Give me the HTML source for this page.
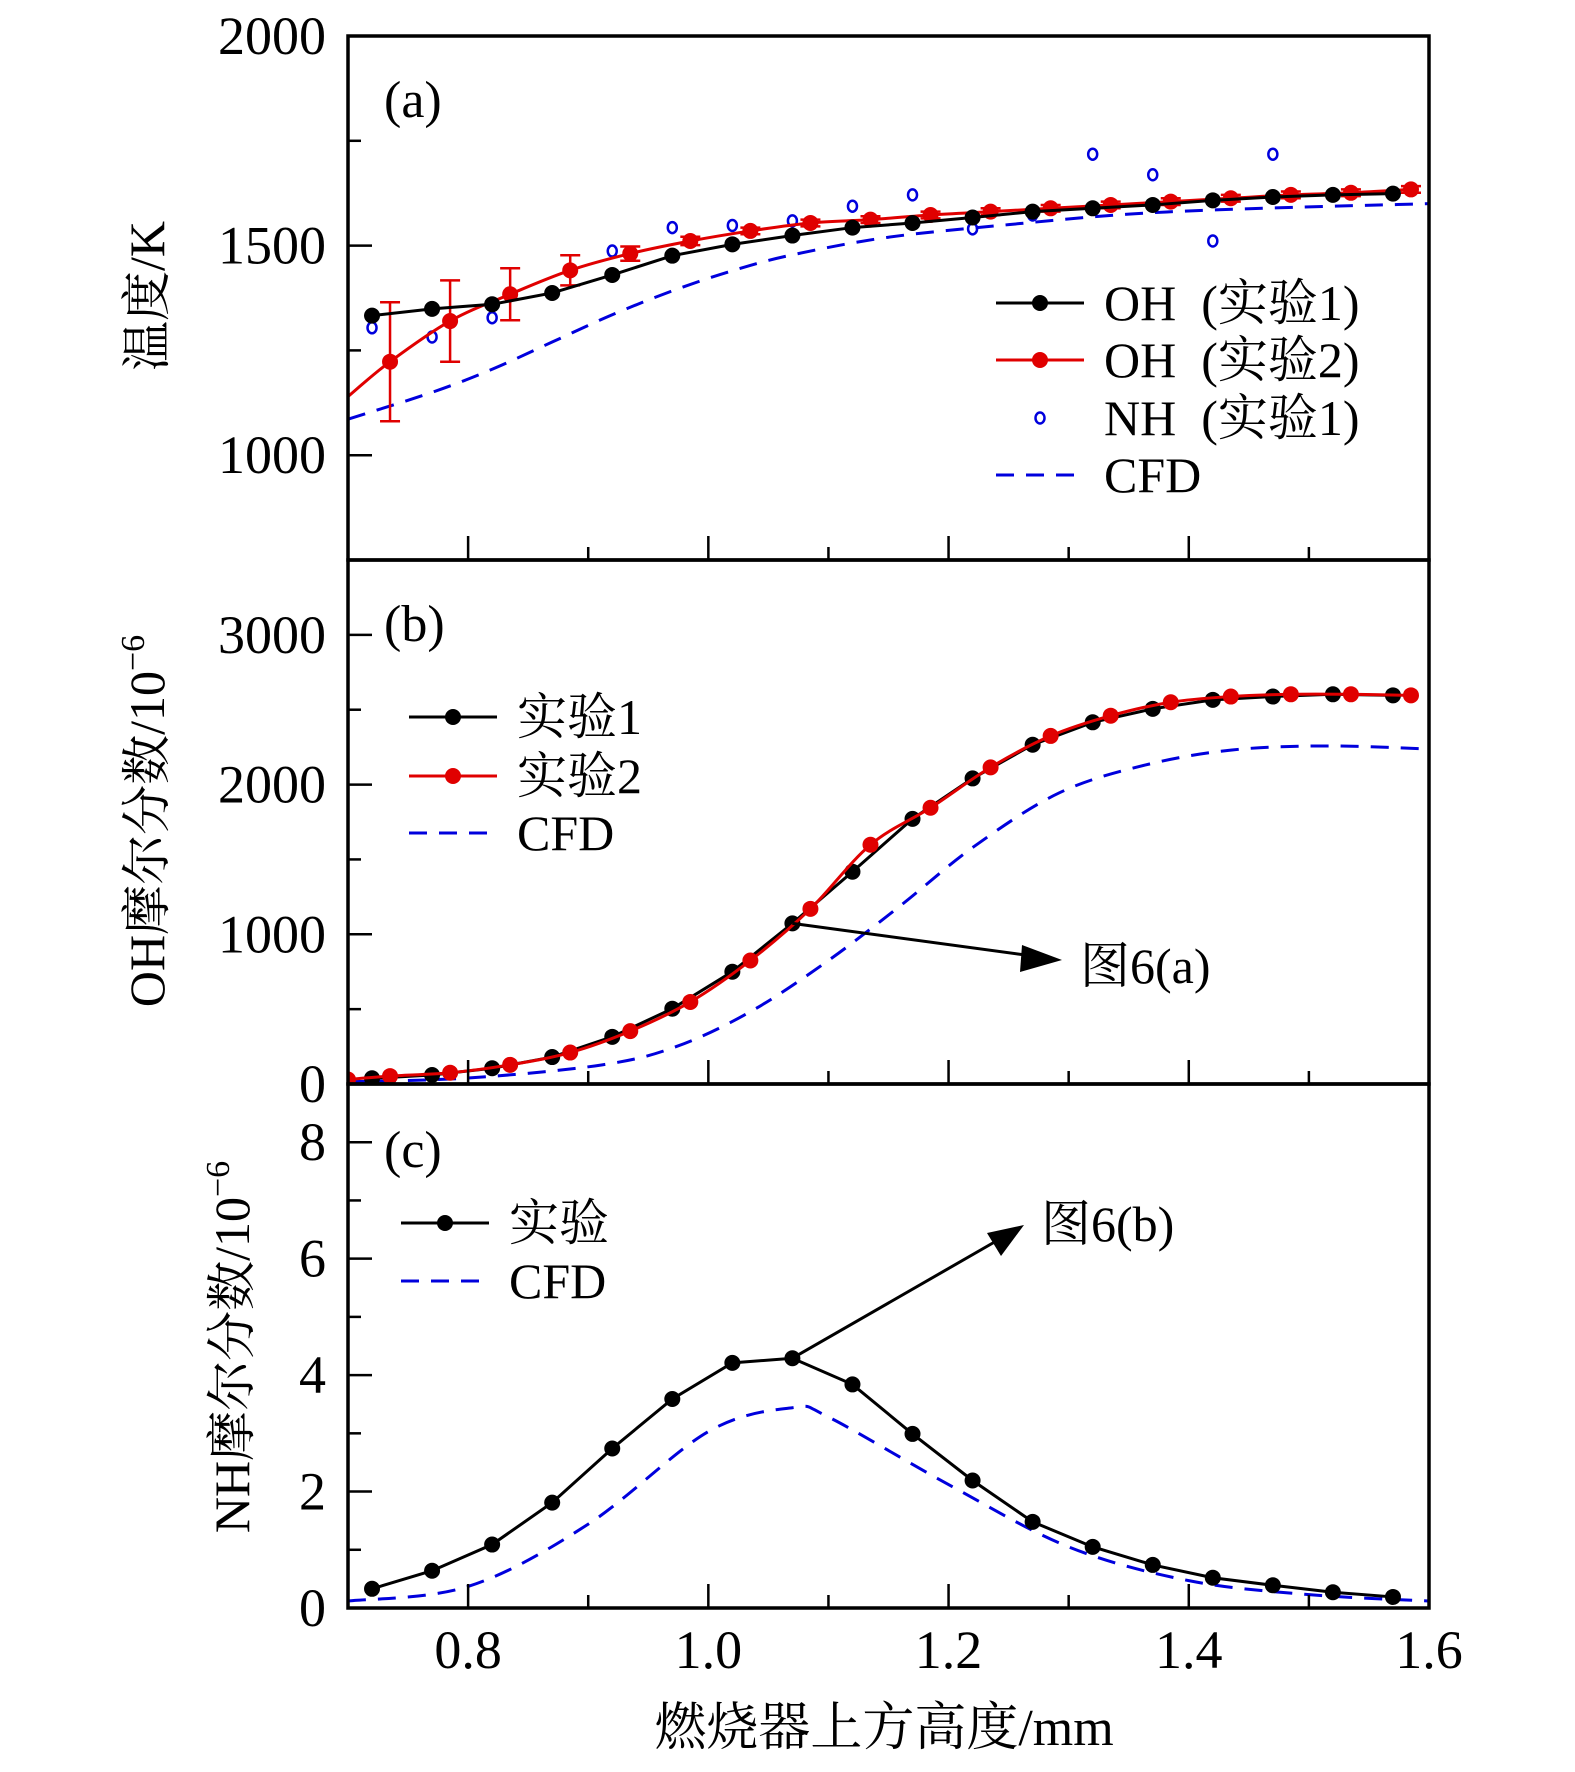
<!DOCTYPE html>
<html><head><meta charset="utf-8"><style>
html,body{margin:0;padding:0;background:#fff}
svg{display:block;font-family:"Liberation Serif","Noto Serif CJK SC","Noto Sans CJK SC",serif}
</style></head><body>
<svg id="chart" width="1575" height="1772" viewBox="0 0 1575 1772" xmlns="http://www.w3.org/2000/svg"></svg>
<script>
// X values
const xOH1 = [0.72,0.77,0.82,0.87,0.92,0.97,1.02,1.07,1.12,1.17,1.22,1.27,1.32,1.37,1.42,1.47,1.52,1.57];
const xOH2 = [0.735,0.785,0.835,0.885,0.935,0.985,1.035,1.085,1.135,1.185,1.235,1.285,1.335,1.385,1.435,1.485,1.535,1.585];
const xNH = [0.72,0.77,0.82,0.87,0.92,0.97,1.02,1.07,1.12,1.17,1.22,1.27,1.32,1.37,1.42,1.47];
// Panel a (temperature, K)
const tempOH1 = [1333,1349,1360,1387,1430,1476,1503,1524,1543,1554,1567,1581,1589,1597,1608,1616,1621,1624];
const tempOH2 = [1223,1320,1384,1441,1481,1511,1535,1554,1562,1573,1581,1589,1597,1605,1613,1621,1626,1634];
const tempOH2Err = [142,97,62,36,17,10,8,8,8,8,8,8,8,8,8,8,8,8];
const tempNH = [1304,1282,1328,1387,1487,1543,1548,1559,1594,1621,1540,1573,1718,1669,1511,1718];
const xTempCFD = [0.7,0.77,0.82,0.87,0.92,0.97,1.02,1.07,1.15,1.25,1.35,1.45,1.6];
const tempCFD = [1086,1150,1205,1270,1335,1392,1440,1478,1520,1550,1575,1588,1600];
// Panel b (OH mole fraction, 1e-6)
const ohExp1 = [38,60,105,180,315,503,750,1073,1418,1771,2041,2266,2416,2506,2566,2588,2603,2596];
const ohExp2 = [53,75,128,210,353,548,825,1170,1598,1845,2115,2325,2460,2550,2588,2603,2603,2596];
const xOhCFD = [0.7,0.8,0.911,0.973,1.035,1.097,1.159,1.221,1.292,1.364,1.436,1.513,1.6];
const ohCFD = [15,40,127,249,483,808,1185,1585,1944,2131,2231,2258,2238];
// Panel c (NH mole fraction, 1e-6)
const nhExp = [0.33,0.64,1.09,1.81,2.74,3.59,4.21,4.29,3.84,2.99,2.19,1.48,1.05,0.74,0.52,0.39,0.27,0.19];
const xNhCFD = [0.7,0.8,0.9,1.0,1.07,1.1,1.2,1.3,1.4,1.5,1.6];
const nhCFD = [0.12,0.37,1.44,3.03,3.44,3.28,2.12,1.05,0.47,0.23,0.12];
// Ticks
const xTicks = [0.8,1.0,1.2,1.4,1.6];
const xTickLabels = ["0.8","1.0","1.2","1.4","1.6"];
const aTicks = [1000,1500,2000];
const bTicks = [0,1000,2000,3000];
const cTicks = [0,2,4,6,8];

const NS="http://www.w3.org/2000/svg";
const svg=document.getElementById('chart');
const L=348,R=1429;
const X=v=>L+(v-0.7)/(1.6-0.7)*(R-L);
const panels={a:{top:36,bot:560,min:750,max:2000},b:{top:560,bot:1084,min:0,max:3500},c:{top:1084,bot:1608,min:0,max:9}};
const Y=(p,v)=>{const q=panels[p];return q.bot-(v-q.min)/(q.max-q.min)*(q.bot-q.top);};
function mk(tag,attrs,parent){const e=document.createElementNS(NS,tag);for(const k in attrs)e.setAttribute(k,attrs[k]);(parent||svg).appendChild(e);return e;}
function txt(s,x,y,size,anchor,parent){const t=mk('text',{x:x,y:y,'font-size':size,'text-anchor':anchor||'start',fill:'#000'},parent);t.setAttribute('xml:space','preserve');t.style.whiteSpace='pre';t.textContent=s;return t;}
function smooth(pts){let d='M'+pts[0][0]+','+pts[0][1];for(let i=0;i<pts.length-1;i++){const p0=pts[i-1]||pts[i],p1=pts[i],p2=pts[i+1],p3=pts[i+2]||p2;const c1=[p1[0]+(p2[0]-p0[0])/6,p1[1]+(p2[1]-p0[1])/6],c2=[p2[0]-(p3[0]-p1[0])/6,p2[1]-(p3[1]-p1[1])/6];d+=' C'+c1[0]+','+c1[1]+' '+c2[0]+','+c2[1]+' '+p2[0]+','+p2[1];}return d;}

const defs=mk('defs',{});
for(const p in panels){const cp=mk('clipPath',{id:'clip-'+p},defs);mk('rect',{x:L,y:panels[p].top,width:R-L,height:panels[p].bot-panels[p].top},cp);}

function series(p,xs,ys,color,name,opts){
  const g=mk('g',{'clip-path':'url(#clip-'+p+')'});
  
  
  const pts=xs.map((x,i)=>[X(x),Y(p,ys[i])]);
  if(opts.line){mk('path',{d:opts.curve?smooth(pts):'M'+pts.map(q=>q.join(',')).join(' L'),fill:'none',stroke:color,'stroke-width':3,'stroke-dasharray':opts.dash||'none'},g);}
  if(opts.marker==='dot')pts.forEach(q=>{const c=mk('circle',{cx:q[0],cy:q[1],r:8,fill:color},g);});
  if(opts.marker==='ring')pts.forEach(q=>{const c=mk('ellipse',{cx:q[0],cy:q[1],rx:4.5,ry:5.5,fill:'none',stroke:color,'stroke-width':2.5},g);});
  return g;
}
function errbars(p,xs,ys,es,color){
  const g=mk('g',{});
  
  
  xs.forEach((x,i)=>{const cx=X(x),y1=Y(p,ys[i]+es[i]),y2=Y(p,ys[i]-es[i]);
    mk('line',{x1:cx,x2:cx,y1:y1,y2:y2,stroke:color,'stroke-width':2.5},g);
    mk('line',{x1:cx-10,x2:cx+10,y1:y1,y2:y1,stroke:color,'stroke-width':2.5},g);
    mk('line',{x1:cx-10,x2:cx+10,y1:y2,y2:y2,stroke:color,'stroke-width':2.5},g);});
}

// Panel a
series('a',xTempCFD,tempCFD,'#0000dd','cfd-line-a',{line:true,curve:true,dash:'18,12'});
series('a',xNH,tempNH,'#0000dd','nh-exp1-points',{marker:'ring'});
series('a',[0.7].concat(xOH2),[1140].concat(tempOH2),'#e00000','oh-exp2-line-a',{line:true,curve:true});
errbars('a',xOH2,tempOH2,tempOH2Err,'#e00000');
series('a',xOH2,tempOH2,'#e00000','oh-exp2-points-a',{marker:'dot'});
series('a',xOH1,tempOH1,'#000','oh-exp1-series-a',{line:true,marker:'dot'});
// Panel b
series('b',xOhCFD,ohCFD,'#0000dd','cfd-line-b',{line:true,curve:true,dash:'18,12'});
series('b',xOH1,ohExp1,'#000','exp1-series-b',{line:true,marker:'dot'});
series('b',[0.7].concat(xOH2),[30].concat(ohExp2),'#e00000','exp2-series-b',{line:true,curve:true,marker:'dot'});
// Panel c
series('c',xNhCFD,nhCFD,'#0000dd','cfd-line-c',{line:true,curve:true,dash:'18,12'});
series('c',xOH1,nhExp,'#000','exp-series-c',{line:true,marker:'dot'});

// Frames and ticks
for(const p in panels){const q=panels[p];
  const f=mk('rect',{x:L,y:q.top,width:R-L,height:q.bot-q.top,fill:'none',stroke:'#000','stroke-width':3.5});
  
  for(let k=0;k<=9;k++){const v=0.7+k*0.1;const major=(k%2===1);mk('line',{x1:X(v),x2:X(v),y1:q.bot,y2:q.bot-(major?24:13),stroke:'#000','stroke-width':2.5});}
}
function yTicks(p,ticks,minorStep){const q=panels[p];
  for(let v=q.min;v<=q.max+1e-9;v+=minorStep){const major=ticks.some(t=>Math.abs(t-v)<1e-6);mk('line',{x1:L,x2:L+(major?24:13),y1:Y(p,v),y2:Y(p,v),stroke:'#000','stroke-width':2.5});}
  ticks.forEach(t=>{const e=txt(String(t),326,Y(p,t)+18,54,'end');});
}
yTicks('a',aTicks,250);yTicks('b',bTicks,500);yTicks('c',cTicks,1);
xTicks.forEach((v,i)=>{const e=txt(xTickLabels[i],X(v),1668,54,'middle');});

// Panel labels
[['(a)',99],['(b)',623],['(c)',1149]].forEach(a=>{const e=txt(a[0],384,a[1]+18,52,'start');});

// Legends
function legend(x1,x2,tx,y,color,marker,dash,label){
  const g=mk('g',{});
  
  
  if(marker!=='ring')mk('line',{x1:x1,x2:x2,y1:y,y2:y,stroke:color,'stroke-width':3,'stroke-dasharray':dash||'none'},g);
  if(marker==='dot')mk('circle',{cx:(x1+x2)/2,cy:y,r:8,fill:color},g);
  if(marker==='ring')mk('ellipse',{cx:(x1+x2)/2,cy:y,rx:4.5,ry:5.5,fill:'none',stroke:color,'stroke-width':2.5},g);
  txt(label,tx,y+17,50,'start',g);
}
legend(996,1084,1104,303,'#000','dot',null,'OH  (实验1)');
legend(996,1084,1104,360,'#e00000','dot',null,'OH  (实验2)');
legend(996,1084,1104,418,'#0000dd','ring',null,'NH  (实验1)');
legend(996,1084,1104,475,'#0000dd',null,'18,12','CFD');
legend(409,497,517,717,'#000','dot',null,'实验1');
legend(409,497,517,776,'#e00000','dot',null,'实验2');
legend(409,497,517,833,'#0000dd',null,'18,12','CFD');
legend(401,489,509,1223,'#000','dot',null,'实验');
legend(401,489,509,1281,'#0000dd',null,'18,12','CFD');

// Arrows
const a1=mk('line',{x1:X(1.07),y1:Y('b',ohExp1[7]),x2:1040,y2:957,stroke:'#000','stroke-width':3});

mk('path',{d:'M1062,960 L1022,945 L1020,972 z',fill:'#000'});
const a2=mk('line',{x1:X(1.07),y1:Y('c',nhExp[7]),x2:1005,y2:1236,stroke:'#000','stroke-width':3});

mk('path',{d:'M1024,1225 L987,1233 L1001,1256 z',fill:'#000'});
let t=txt('图6(a)',1080,983,50,'start');
t=txt('图6(b)',1041,1241,50,'start');

// Axis titles
function vtitle(s,x,y,name){const e=txt(s,0,0,50,'middle');e.setAttribute('transform','translate('+x+','+y+') rotate(-90)');return e;}
vtitle('温度/K',164,296,'y-axis-title-a');
const tb=vtitle('',164,821,'y-axis-title-b');tb.innerHTML='OH摩尔分数/10<tspan font-size="34" dy="-20">−6</tspan>';
const tc=vtitle('',249,1347,'y-axis-title-c');tc.innerHTML='NH摩尔分数/10<tspan font-size="34" dy="-20">−6</tspan>';
t=txt('燃烧器上方高度/mm',884,1745,52,'middle');
</script>
</body></html>
